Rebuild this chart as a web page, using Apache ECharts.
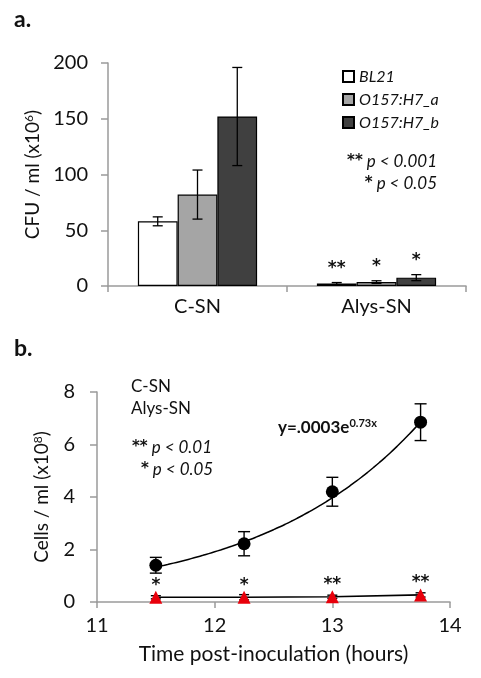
<!DOCTYPE html>
<html>
<head>
<meta charset="utf-8">
<script src="https://cdn.jsdelivr.net/npm/echarts@6/dist/echarts.min.js"></script>
<style>
html,body{margin:0;padding:0;background:#fff;}
#chart{width:481px;height:678px;}
</style>
</head>
<body>
<div id="chart"></div>
<script>
// ---------- Panel a data ----------
const categories = ['C-SN', 'Alys-SN'];
const seriesNames = ['BL21', 'O157:H7_a', 'O157:H7_b'];
const bl21 = [58, 2.2];
const bl21Err = [4, 0.9];
const bl21Sig = ['', '**'];
const o157a = [82, 3.5];
const o157aErr = [22, 1.2];
const o157aSig = ['', '*'];
const o157b = [152, 7.5];
const o157bErr = [44, 2.7];
const o157bSig = ['', '*'];
const yTicksA = [0, 50, 100, 150, 200];

// ---------- Panel b data ----------
const hours = [11.5, 12.25, 13, 13.75];
const csn = [1.4, 2.22, 4.2, 6.85];
const csnErr = [0.3, 0.46, 0.55, 0.7];
const alys = [0.18, 0.18, 0.2, 0.27];
const alysErr = [0.06, 0.1, 0.06, 0.08];
const alysSig = ['*', '*', '**', '**'];
const fitCoef = 0.0003;   // from printed equation y=.0003e^(0.73x)
const fitRate = 0.73;
const xTicksB = [11, 12, 13, 14];
const yTicksB = [0, 2, 4, 6, 8];

const FONT = 'Lato, "Liberation Sans", sans-serif';
const STAR_FAMILY = '"DejaVu Sans", sans-serif';
const AXIS_COLOR = '#9a9a9a';
const TEXT = '#111';

// trendline points from the printed equation
const fitX = [];
for (let x = hours[0]; x <= hours[hours.length - 1] + 1e-9; x += 0.05) fitX.push(x);
const fitData = fitX.map(x => [x, fitCoef * Math.exp(fitRate * x)]);

const barFrac = 2 / 9;
const STAR_FONT = 'bold 17px ' + STAR_FAMILY;

function barErr(vals, errs, sig, idx) {
  return {
    type: 'custom', xAxisIndex: 0, yAxisIndex: 0, z: 10,
    data: vals.map((v, i) => [i, v, errs[i]]),
    renderItem: function (params, api) {
      const i = api.value(0), v = api.value(1), e = api.value(2);
      const band = api.size([1, 0])[0];
      const bw = band * barFrac;
      const c = api.coord([i, v]);
      const x = c[0] + (idx - 1) * bw;
      const yHi = api.coord([i, v + e])[1];
      const yLo = api.coord([i, Math.max(v - e, 0)])[1];
      const cap = 5;
      const st = { stroke: '#000', lineWidth: 1.3 };
      const ch = [
        { type: 'line', shape: { x1: x, y1: yHi, x2: x, y2: yLo }, style: st },
        { type: 'line', shape: { x1: x - cap, y1: yHi, x2: x + cap, y2: yHi }, style: st },
        { type: 'line', shape: { x1: x - cap, y1: yLo, x2: x + cap, y2: yLo }, style: st }
      ];
      const s = sig[params.dataIndex];
      if (s) ch.push({ type: 'text', style: { text: s, x: x, y: yHi - 14, align: 'center', verticalAlign: 'middle', font: STAR_FONT, fill: TEXT } });
      return { type: 'group', children: ch };
    }
  };
}

function ptErr(xs, vals, errs, sig, cap, markOff) {
  return {
    type: 'custom', xAxisIndex: 1, yAxisIndex: 1, z: 10,
    data: xs.map((x, i) => [x, vals[i], errs[i]]),
    renderItem: function (params, api) {
      const xv = api.value(0), v = api.value(1), e = api.value(2);
      const p = api.coord([xv, v]);
      const yHi = api.coord([xv, v + e])[1];
      const yLo = api.coord([xv, v - e])[1];
      const st = { stroke: '#000', lineWidth: 1.4 };
      const ch = [
        { type: 'line', shape: { x1: p[0], y1: yHi, x2: p[0], y2: yLo }, style: st },
        { type: 'line', shape: { x1: p[0] - cap, y1: yHi, x2: p[0] + cap, y2: yHi }, style: st },
        { type: 'line', shape: { x1: p[0] - cap, y1: yLo, x2: p[0] + cap, y2: yLo }, style: st }
      ];
      if (sig) {
        const s = sig[params.dataIndex];
        ch.push({ type: 'text', style: { text: s, x: p[0], y: p[1] - markOff, align: 'center', verticalAlign: 'middle', font: STAR_FONT, fill: TEXT } });
      }
      return { type: 'group', children: ch };
    }
  };
}

const chart = echarts.init(document.getElementById('chart'), null, { renderer: 'canvas' });

const axisLineStyle = { show: true, lineStyle: { color: AXIS_COLOR, width: 1.5 } };
const axisTickStyle = { show: true, length: 7, inside: false, lineStyle: { color: AXIS_COLOR, width: 1.5 } };

const pRich = {
  n: { font: 'bold 15px ' + STAR_FAMILY, fill: TEXT, padding: [0, 4, 0, 0] },
  i: { font: 'italic 17px ' + FONT, fill: TEXT }
};

const option = {
  animation: false,
  backgroundColor: '#fff',
  textStyle: { fontFamily: FONT },
  grid: [
    { left: 108, top: 63, width: 358, height: 223 },
    { left: 97, top: 392, width: 353, height: 210 }
  ],
  legend: {
    data: seriesNames,
    orient: 'vertical',
    left: 337, top: 63,
    icon: 'rect', itemWidth: 11, itemHeight: 11, itemGap: 6,
    textStyle: { fontFamily: FONT, fontStyle: 'italic', fontSize: 16, color: TEXT, lineHeight: 17 },
    selectedMode: false
  },
  xAxis: [
    {
      type: 'category', gridIndex: 0, data: categories, boundaryGap: true,
      axisLine: axisLineStyle,
      axisTick: { show: true, length: 6, lineStyle: { color: AXIS_COLOR, width: 1.5 } },
      axisLabel: { fontSize: 20, color: TEXT, margin: 11, fontFamily: FONT }
    },
    {
      type: 'value', gridIndex: 1, min: xTicksB[0], max: xTicksB[xTicksB.length - 1], interval: 1,
      splitLine: { show: false },
      axisLine: axisLineStyle,
      axisTick: { show: true, length: 6, lineStyle: { color: AXIS_COLOR, width: 1.5 } },
      axisLabel: { fontSize: 20, color: TEXT, margin: 14, fontFamily: FONT },
      name: 'Time post-inoculation (hours)', nameLocation: 'middle', nameGap: 42,
      nameTextStyle: { fontSize: 21, color: TEXT, fontFamily: FONT }
    }
  ],
  yAxis: [
    {
      type: 'value', gridIndex: 0, min: yTicksA[0], max: yTicksA[yTicksA.length - 1], interval: 50,
      splitLine: { show: false },
      axisLine: axisLineStyle, axisTick: axisTickStyle,
      axisLabel: { fontSize: 20, color: TEXT, margin: 20, fontFamily: FONT },
      name: '{a|CFU / ml (x10}{s|6}{a|)}', nameLocation: 'middle', nameGap: 64, nameRotate: 90,
      nameTextStyle: {
        rich: {
          a: { fontSize: 19, color: TEXT, fontFamily: FONT },
          s: { fontSize: 12, color: TEXT, fontFamily: FONT, verticalAlign: 'top', padding: [0, 0, 8, 0] }
        }
      }
    },
    {
      type: 'value', gridIndex: 1, min: yTicksB[0], max: yTicksB[yTicksB.length - 1], interval: 2,
      splitLine: { show: false },
      axisLine: axisLineStyle, axisTick: axisTickStyle,
      axisLabel: { fontSize: 20, color: TEXT, margin: 22, fontFamily: FONT },
      name: '{a|Cells / ml (x10}{s|8}{a|)}', nameLocation: 'middle', nameGap: 45, nameRotate: 90,
      nameTextStyle: {
        rich: {
          a: { fontSize: 19, color: TEXT, fontFamily: FONT },
          s: { fontSize: 12, color: TEXT, fontFamily: FONT, verticalAlign: 'top', padding: [0, 0, 8, 0] }
        }
      }
    }
  ],
  series: [
    { name: seriesNames[0], type: 'bar', xAxisIndex: 0, yAxisIndex: 0, data: bl21, barWidth: '22.2%', barGap: '0%',
      itemStyle: { color: '#ffffff', borderColor: '#000', borderWidth: 1.2 } },
    { name: seriesNames[1], type: 'bar', xAxisIndex: 0, yAxisIndex: 0, data: o157a, barWidth: '22.2%', barGap: '0%',
      itemStyle: { color: '#a5a5a5', borderColor: '#000', borderWidth: 1.2 } },
    { name: seriesNames[2], type: 'bar', xAxisIndex: 0, yAxisIndex: 0, data: o157b, barWidth: '22.2%', barGap: '0%',
      itemStyle: { color: '#404040', borderColor: '#000', borderWidth: 1.2 } },
    barErr(bl21, bl21Err, bl21Sig, 0),
    barErr(o157a, o157aErr, o157aSig, 1),
    barErr(o157b, o157bErr, o157bSig, 2),

    { name: 'fit', type: 'line', xAxisIndex: 1, yAxisIndex: 1, data: fitData, showSymbol: false, smooth: true,
      lineStyle: { color: '#000', width: 1.5 }, z: 3 },
    { name: 'C-SN pts', type: 'scatter', xAxisIndex: 1, yAxisIndex: 1, data: hours.map((h, i) => [h, csn[i]]),
      symbol: 'circle', symbolSize: 13, itemStyle: { color: '#000', opacity: 1 }, z: 12 },
    ptErr(hours, csn, csnErr, null, 6, 0),
    { name: 'Alys-SN pts', type: 'line', xAxisIndex: 1, yAxisIndex: 1, data: hours.map((h, i) => [h, alys[i]]),
      symbol: 'triangle', symbolSize: 13, showSymbol: true, itemStyle: { color: '#e8000b', opacity: 1 },
      lineStyle: { color: '#000', width: 1.6 }, z: 12 },
    ptErr(hours, alys, alysErr, alysSig, 5, 12)
  ],
  graphic: [
    { type: 'text', left: 14, top: 8, style: { text: 'a.', font: 'bold 23px ' + FONT, fill: TEXT } },
    { type: 'text', left: 14, top: 337, style: { text: 'b.', font: 'bold 23px ' + FONT, fill: TEXT } },
    { type: 'text', right: 44, top: 153, style: { text: '{n|**}{i|p < 0.001}', align: 'right', rich: pRich } },
    { type: 'text', right: 44, top: 175, style: { text: '{n|*}{i|p < 0.05}', align: 'right', rich: pRich } },
    { type: 'text', left: 131, top: 378, style: { text: 'C-SN', font: '17px ' + FONT, fill: TEXT } },
    { type: 'text', left: 131, top: 400, style: { text: 'Alys-SN', font: '17px ' + FONT, fill: TEXT } },
    { type: 'text', left: 132, top: 439, style: { text: '{n|**}{i|p < 0.01}', rich: pRich } },
    { type: 'text', left: 141, top: 461, style: { text: '{n|*}{i|p < 0.05}', rich: pRich } },
    { type: 'text', left: 278, top: 418, style: { text: '{b|y=.0003e}{s|0.73x}',
        rich: { b: { font: 'bold 17px ' + FONT, fill: TEXT }, s: { font: 'bold 11px ' + FONT, fill: TEXT, verticalAlign: 'top', padding: [0, 0, 8, 0] } } } }
  ]
};

chart.setOption(option);
</script>
</body>
</html>
